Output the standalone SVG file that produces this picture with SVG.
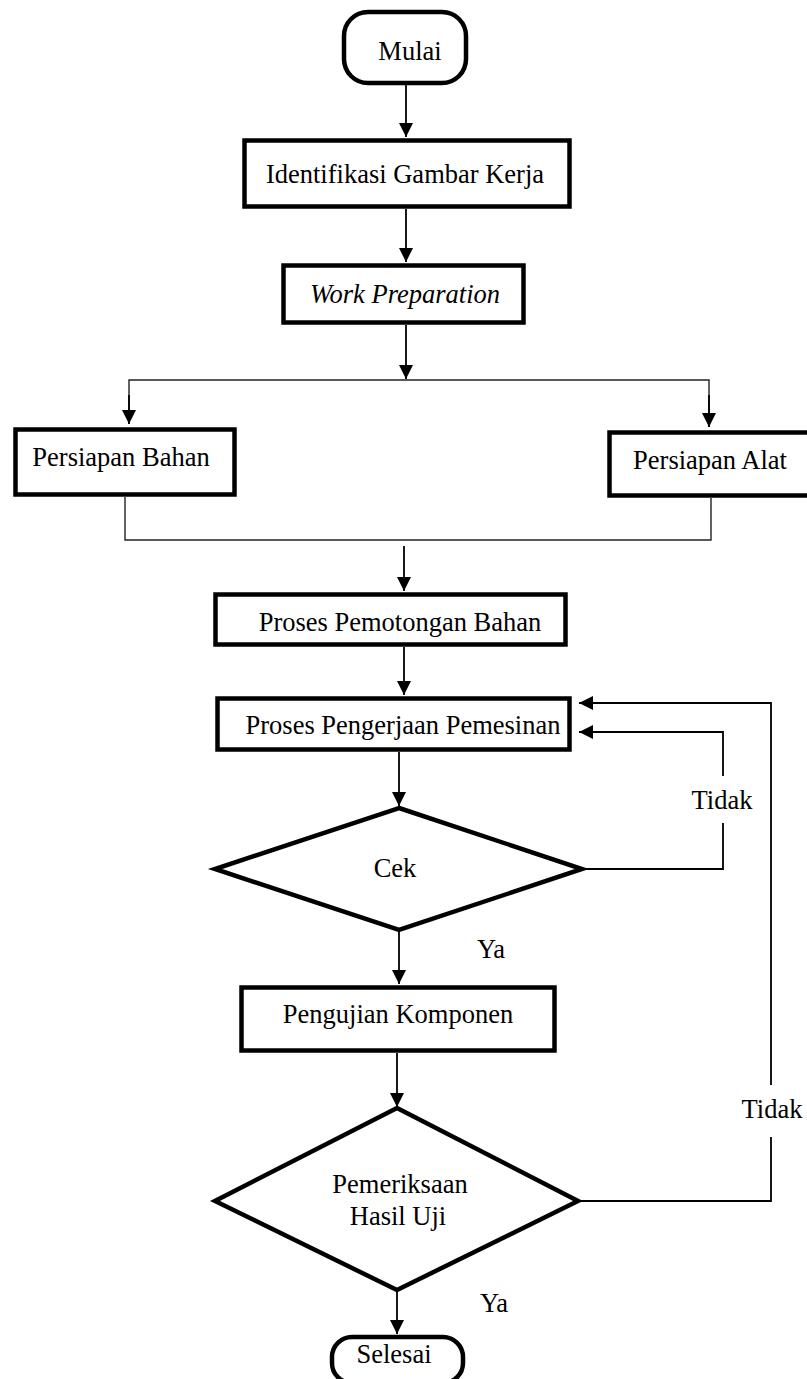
<svg xmlns="http://www.w3.org/2000/svg" width="807" height="1379" viewBox="0 0 807 1379">
<style>
.box{fill:#fff;stroke:#000;stroke-width:4.5}
.dia{fill:#fff;stroke:#000;stroke-width:4.5;stroke-linejoin:miter}
.t{font-family:"Liberation Serif","Times New Roman",serif;font-size:26.5px;fill:#000;text-anchor:middle}
.c{fill:none;stroke:#000;stroke-width:1.8}
.thin{fill:none;stroke:#222;stroke-width:1.4}
</style>
<defs>
<marker id="ah" markerUnits="userSpaceOnUse" markerWidth="15" markerHeight="15" refX="14" refY="7" orient="auto">
<path d="M0,0 L14,7 L0,14 z" fill="#000"/>
</marker>
</defs>
<rect width="807" height="1379" fill="#fff"/>
<g id="connectors">
<line class="c" x1="406" y1="85" x2="406" y2="137" marker-end="url(#ah)"/>
<line class="c" x1="406" y1="209" x2="406" y2="262" marker-end="url(#ah)"/>
<line class="c" x1="406" y1="325" x2="406" y2="379" marker-end="url(#ah)"/>
<polyline class="thin" points="129,424 129,380 709,380 709,427"/>
<line class="c" x1="129" y1="395" x2="129" y2="424" marker-end="url(#ah)"/>
<line class="c" x1="709" y1="395" x2="709" y2="427" marker-end="url(#ah)"/>
<polyline class="thin" points="125,497 125,540 711,540 711,498"/>
<line class="c" x1="404" y1="546" x2="404" y2="591" marker-end="url(#ah)"/>
<line class="c" x1="404" y1="647" x2="404" y2="695" marker-end="url(#ah)"/>
<line class="c" x1="399" y1="752" x2="399" y2="806" marker-end="url(#ah)"/>
<line class="c" x1="399" y1="930" x2="399" y2="984" marker-end="url(#ah)"/>
<line class="c" x1="397" y1="1053" x2="397" y2="1107" marker-end="url(#ah)"/>
<line class="c" x1="397" y1="1290" x2="397" y2="1334" marker-end="url(#ah)"/>
<polyline class="c" points="582,869 723,869 723,823"/>
<polyline class="c" points="723,776 723,732 579,732" marker-end="url(#ah)"/>
<polyline class="c" points="578,1201 771,1201 771,1137"/>
<polyline class="c" points="771,1085 771,703 579,703" marker-end="url(#ah)"/>
</g>
<g id="mulai"><rect class="box" x="344" y="12" width="122" height="71" rx="24" ry="24"/><text class="t" x="410" y="60">Mulai</text></g>
<g id="identifikasi"><rect class="box" x="244.5" y="140.5" width="325" height="66"/><text class="t" x="405" y="183">Identifikasi Gambar Kerja</text></g>
<g id="work-prep"><rect class="box" x="283.5" y="265.5" width="240" height="57"/><text class="t" x="405" y="303" font-style="italic">Work Preparation</text></g>
<g id="persiapan-bahan"><rect class="box" x="15.5" y="429.5" width="219" height="65"/><text class="t" x="121" y="466">Persiapan Bahan</text></g>
<g id="persiapan-alat"><rect class="box" x="609.5" y="432.5" width="210" height="63"/><text class="t" x="710" y="469">Persiapan Alat</text></g>
<g id="pemotongan"><rect class="box" x="215.5" y="594.5" width="350" height="50"/><text class="t" x="400" y="631">Proses Pemotongan Bahan</text></g>
<g id="pengerjaan"><rect class="box" x="217.5" y="698.5" width="352" height="51"/><text class="t" x="403" y="734">Proses Pengerjaan Pemesinan</text></g>
<g id="cek"><polygon class="dia" points="399,808 582,869 399,930 215,869"/><text class="t" x="395" y="877">Cek</text></g>
<g id="pengujian"><rect class="box" x="241.5" y="987.5" width="313" height="63"/><text class="t" x="398" y="1023">Pengujian Komponen</text></g>
<g id="pemeriksaan"><polygon class="dia" points="397,1108 578,1201 397,1290 215,1201"/><text class="t" x="400" y="1193">Pemeriksaan</text><text class="t" x="398" y="1225">Hasil Uji</text></g>
<g id="selesai"><rect class="box" x="332" y="1337" width="131" height="46" rx="20" ry="20"/><text class="t" x="394" y="1363">Selesai</text></g>
<g id="labels">
<text class="t" x="722" y="809">Tidak</text>
<text class="t" x="772" y="1118">Tidak</text>
<text class="t" x="491" y="958">Ya</text>
<text class="t" x="494" y="1312">Ya</text>
</g>
</svg>
